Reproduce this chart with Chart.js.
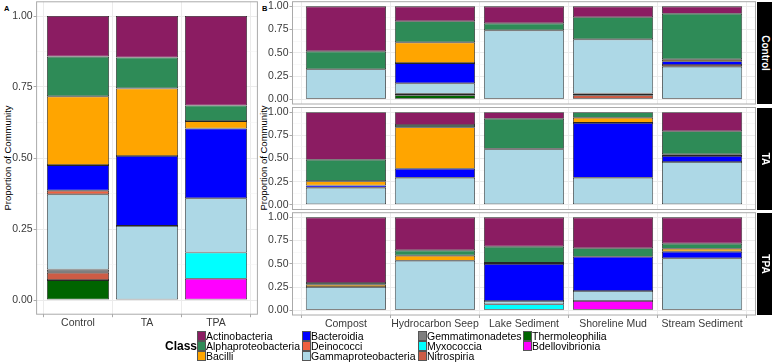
<!DOCTYPE html>
<html>
<head>
<meta charset="utf-8">
<script src="https://cdn.jsdelivr.net/npm/chart.js@4.4.1/dist/chart.umd.min.js"></script>
<style>
  body { margin: 0; width: 772px; height: 364px; background: #fff; position: relative; overflow: hidden;
         font-family: "Liberation Sans", Arial, sans-serif; }
  canvas { position: absolute; }
  .tag { position: absolute; font-weight: bold; font-size: 7.5px; color: #000; }
  .ytitle { position: absolute; font-size: 9.5px; color: #000; white-space: nowrap;
            transform: translate(-50%, -50%) rotate(-90deg); }
  .strip { position: absolute; background: #000; color: #fff; font-weight: bold; font-size: 10px; }
  .strip span { position: absolute; left: 50%; top: 50%; white-space: nowrap;
                transform: translate(-50%, -50%) rotate(90deg); }
  .key { position: absolute; width: 7px; height: 8px; border: 0.8px solid #555; }
  .ltext { position: absolute; font-size: 10.5px; color: #000; white-space: nowrap; line-height: 10px; }
  .ltitle { position: absolute; font-size: 12px; font-weight: bold; color: #000; }
</style>
</head>
<body>
<div class="tag" style="left:4px; top:4px;">A</div>
<div class="tag" style="left:262px; top:4px;">B</div>
<div class="ytitle" style="left:7px; top:158px;">Proportion of Community</div>
<div class="ytitle" style="left:263px; top:158px;">Proportion of Community</div>

<canvas id="panelA"></canvas>
<canvas id="rowControl"></canvas>
<canvas id="rowTA"></canvas>
<canvas id="rowTPA"></canvas>
<div id="legend"></div>

<script>
// classes, in legend order (first one sits at the top of each stack)
const classes = [
  "Actinobacteria", "Alphaproteobacteria", "Bacilli", "Bacteroidia", "Deinococci",
  "Gammaproteobacteria", "Gemmatimonadetes", "Myxococcia", "Nitrospiria",
  "Thermoleophilia", "Bdellovibrionia"
];
const classColors = [
  "#8B1C62", "#2E8B57", "#FFA500", "#0000FF", "#F0603F",
  "#ADD8E6", "#7F7F7F", "#00FFFF", "#CD5C45",
  "#006400", "#FF00FF"
];

const treatments = ["Control", "TA", "TPA"];
const sources = ["Compost", "Hydrocarbon Seep", "Lake Sediment", "Shoreline Mud", "Stream Sediment"];
const yTicks = [0, 0.125, 0.25, 0.375, 0.5, 0.625, 0.75, 0.875, 1];

// one row per bar, values in class order
const pooledBars = [
  [0.143, 0.140, 0.242, 0.090, 0.013, 0.265, 0.011, 0, 0.026, 0.070, 0],
  [0.146, 0.109, 0.238, 0.246, 0, 0.261, 0, 0, 0, 0, 0],
  [0.315, 0.055, 0.026, 0.246, 0, 0.191, 0, 0.092, 0, 0, 0.075]
];
const controlBars = [
  [0.484, 0.193, 0, 0, 0, 0.323, 0, 0, 0, 0, 0],
  [0.161, 0.226, 0.223, 0.218, 0, 0.112, 0, 0, 0.015, 0.045, 0],
  [0.183, 0.075, 0, 0, 0, 0.742, 0, 0, 0, 0, 0],
  [0.118, 0.237, 0, 0, 0, 0.583, 0.017, 0, 0.045, 0, 0],
  [0.079, 0.491, 0.020, 0.040, 0.019, 0.351, 0, 0, 0, 0, 0]
];
const taBars = [
  [0.513, 0.231, 0.047, 0.025, 0, 0.184, 0, 0, 0, 0, 0],
  [0.138, 0.024, 0.448, 0.098, 0, 0.292, 0, 0, 0, 0, 0],
  [0.072, 0.323, 0.006, 0, 0, 0.599, 0, 0, 0, 0, 0],
  [0, 0.061, 0.055, 0.592, 0, 0.292, 0, 0, 0, 0, 0],
  [0.206, 0.249, 0.018, 0.065, 0, 0.462, 0, 0, 0, 0, 0]
];
const tpaBars = [
  [0.706, 0.018, 0.025, 0, 0, 0.251, 0, 0, 0, 0, 0],
  [0.355, 0.057, 0.054, 0, 0, 0.534, 0, 0, 0, 0, 0],
  [0.315, 0.175, 0.012, 0.398, 0, 0.035, 0, 0.065, 0, 0, 0],
  [0.333, 0.090, 0, 0.369, 0, 0.108, 0, 0, 0, 0, 0.100],
  [0.283, 0.054, 0.032, 0.072, 0, 0.559, 0, 0, 0, 0, 0]
];

Chart.defaults.font.family = '"Liberation Sans", Arial, sans-serif';
Chart.defaults.font.size = 10.5;
Chart.defaults.color = "#3A3A3A";

const isMajor = v => Math.abs(v * 4 - Math.round(v * 4)) < 1e-6;

// grey frame round each panel
const panelBorder = {
  id: "panelBorder",
  afterDraw(chart) {
    const a = chart.chartArea;
    const ctx = chart.ctx;
    ctx.save();
    ctx.strokeStyle = "#AAAAAA";
    ctx.lineWidth = 1;
    ctx.strokeRect(a.left, a.top, a.right - a.left, a.bottom - a.top);
    ctx.restore();
  }
};

function buildPanel(id, box, labels, bars, showX) {
  const canvas = document.getElementById(id);
  canvas.width = box.width;
  canvas.height = box.height;
  canvas.style.left = box.left + "px";
  canvas.style.top = box.top + "px";

  // datasets stack from the bottom, so walk the classes backwards
  const datasets = [];
  for (let c = classes.length - 1; c >= 0; c--) {
    datasets.push({
      label: classes[c],
      data: bars.map((row, i) => ({ x: i + 1, y: row[c] })).filter(p => p.y > 0),
      backgroundColor: classColors[c],
      borderColor: "#262626",
      borderWidth: 0.8,
      borderSkipped: false,
      barPercentage: 0.9,
      categoryPercentage: 1
    });
  }

  new Chart(canvas.getContext("2d"), {
    type: "bar",
    data: { datasets },
    options: {
      responsive: false,
      animation: false,
      layout: { padding: { top: box.padTop, right: box.padRight, left: 0, bottom: 0 } },
      plugins: { legend: { display: false }, tooltip: { enabled: false } },
      scales: {
        x: {
          type: "linear",
          min: 0.4,
          max: labels.length + 0.6,
          stacked: true,
          offset: false,
          afterBuildTicks: axis => { axis.ticks = labels.map((_, i) => ({ value: i + 1 })); },
          afterFit: axis => {
            axis.height = box.xHeight;
            axis.paddingLeft = 0; axis.paddingRight = 0;
          },
          border: { display: false },
          grid: { color: "#EBEBEB", lineWidth: 1, drawTicks: showX, tickLength: 3, tickColor: "#AAAAAA" },
          ticks: {
            display: showX,
            padding: 0,
            maxRotation: 0,
            autoSkip: false,
            callback: v => labels[v - 1]
          }
        },
        y: {
          min: -0.05,
          max: 1.05,
          stacked: true,
          afterBuildTicks: axis => { axis.ticks = yTicks.map(v => ({ value: v })); },
          afterFit: axis => {
            axis.width = box.yWidth;
            axis.paddingTop = 0; axis.paddingBottom = 0;
          },
          border: { display: false },
          grid: {
            color: ctx => isMajor(ctx.tick.value) ? "#EBEBEB" : "#F4F4F4",
            lineWidth: ctx => isMajor(ctx.tick.value) ? 1 : 0.6,
            tickColor: ctx => isMajor(ctx.tick.value) ? "#AAAAAA" : "rgba(0,0,0,0)",
            tickLength: 3
          },
          ticks: {
            padding: 1,
            autoSkip: false,
            callback: v => isMajor(v) ? v.toFixed(2) : ""
          }
        }
      }
    },
    plugins: [panelBorder]
  });
}

buildPanel("panelA",
  { left: 0, top: 0, width: 262, height: 340, padTop: 1.8, padRight: 4.6, yWidth: 36.6, xHeight: 25.8 },
  treatments, pooledBars, true);

const rowBoxes = [
  { left: 240, top: 0, width: 520, height: 106, padTop: 1.7, padRight: 4.5, yWidth: 52.5, xHeight: 2 },
  { left: 240, top: 105, width: 520, height: 107, padTop: 2.5, padRight: 4.5, yWidth: 52.5, xHeight: 2.5 },
  { left: 240, top: 210, width: 520, height: 130, padTop: 2.7, padRight: 4.5, yWidth: 52.5, xHeight: 25 }
];
buildPanel("rowControl", rowBoxes[0], sources, controlBars, false);
buildPanel("rowTA", rowBoxes[1], sources, taBars, false);
buildPanel("rowTPA", rowBoxes[2], sources, tpaBars, true);

// facet strips on the right
rowBoxes.forEach((b, r) => {
  const top = b.top + b.padTop;
  const bottom = b.top + b.height - b.xHeight;
  const strip = document.createElement("div");
  strip.className = "strip";
  strip.style.left = "757px";
  strip.style.width = "15px";
  strip.style.top = top + "px";
  strip.style.height = (bottom - top) + "px";
  strip.innerHTML = "<span>" + treatments[r] + "</span>";
  document.body.appendChild(strip);
});

// legend: three rows per column, like ggplot's guide
const legend = document.getElementById("legend");
const colX = [197, 302, 418, 523];
const title = document.createElement("div");
title.className = "ltitle";
title.textContent = "Class";
title.style.left = "165px";
title.style.top = "339px";
legend.appendChild(title);
classes.forEach((name, i) => {
  const col = Math.floor(i / 3);
  const row = i % 3;
  const y = 331 + row * 10;
  const key = document.createElement("div");
  key.className = "key";
  key.style.left = colX[col] + "px";
  key.style.top = y + "px";
  key.style.background = classColors[i];
  legend.appendChild(key);
  const txt = document.createElement("div");
  txt.className = "ltext";
  txt.textContent = name;
  txt.style.left = (colX[col] + 9) + "px";
  txt.style.top = (y - 0.5) + "px";
  legend.appendChild(txt);
});
</script>
</body>
</html>
